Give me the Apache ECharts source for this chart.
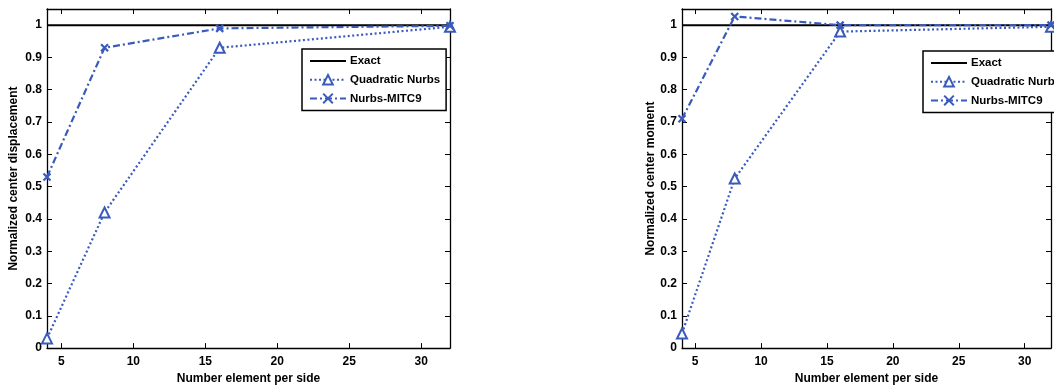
<!DOCTYPE html>
<html>
<head>
<meta charset="utf-8">
<script src="https://cdn.jsdelivr.net/npm/echarts@6/dist/echarts.min.js"></script>
<style>
  html, body { margin: 0; padding: 0; background: #fff; }
  #chart { width: 1054px; height: 390px; }
</style>
</head>
<body>
<div id="chart"></div>
<script>
const elements = [4, 8, 16, 32];
const exactValues = [1, 1, 1, 1];

// left: center displacement
const dispQuadratic = [0.03, 0.42, 0.93, 0.995];
const dispMitc9 = [0.53, 0.93, 0.99, 0.998];

// right: center moment
const momQuadratic = [0.045, 0.525, 0.98, 0.995];
const momMitc9 = [0.71, 1.027, 1.0, 1.0];

const blue = "#3a5abc";
const font = "Liberation Sans";
const crossPath = "path://M0,0L10,10M10,0L0,10";

const pairs = (ys) => elements.map((x, i) => [x, ys[i]]);

const chart = echarts.init(document.getElementById("chart"));

const axisLine = { onZero: false, lineStyle: { color: "#000", width: 1.3 } };
const axisTick = { inside: true, length: 5, lineStyle: { color: "#000", width: 1 } };
const labelStyle = { color: "#000", fontWeight: "bold", fontSize: 12, fontFamily: font };
const nameStyle = { color: "#000", fontWeight: "bold", fontSize: 12, fontFamily: font };

function xAxes(gridIndex) {
  return [
    {
      gridIndex, type: "value", min: 4, max: 32, position: "bottom",
      axisLine, axisTick, splitLine: { show: false },
      axisLabel: Object.assign({ margin: 8, formatter: (v) => (v % 5 === 0 ? String(v) : "") }, labelStyle),
      name: "Number element per side", nameLocation: "middle", nameGap: 24,
      nameTextStyle: nameStyle,
    },
    {
      gridIndex, type: "value", min: 4, max: 32, position: "top",
      axisLine, axisTick, splitLine: { show: false }, axisLabel: { show: false },
    },
  ];
}

function yAxes(gridIndex, name, gap) {
  return [
    {
      gridIndex, type: "value", min: 0, max: 1.05, interval: 0.1, position: "left",
      axisLine, axisTick, splitLine: { show: false },
      axisLabel: Object.assign({ margin: 5, showMaxLabel: false }, labelStyle),
      name, nameLocation: "middle", nameGap: gap,
      nameTextStyle: nameStyle,
    },
    {
      gridIndex, type: "value", min: 0, max: 1.05, interval: 0.1, position: "right",
      axisLine, axisTick, splitLine: { show: false }, axisLabel: { show: false },
    },
  ];
}

function seriesFor(idx, quad, mitc) {
  return [
    {
      name: "Exact", type: "line", xAxisIndex: idx * 2, yAxisIndex: idx * 2,
      data: pairs(exactValues), symbol: "none", clip: false,
      lineStyle: { color: "#000", width: 2 }, itemStyle: { color: "#000" },
    },
    {
      name: "Quadratic Nurbs", type: "line", xAxisIndex: idx * 2, yAxisIndex: idx * 2,
      data: pairs(quad), symbol: "emptyTriangle", symbolSize: 10, clip: false,
      lineStyle: { color: blue, width: 2.2, type: [2, 2.5] },
      itemStyle: { color: blue, borderColor: blue, borderWidth: 1.8 },
    },
    {
      name: "Nurbs-MITC9", type: "line", xAxisIndex: idx * 2, yAxisIndex: idx * 2,
      data: pairs(mitc), symbol: crossPath, symbolSize: 7, clip: false,
      lineStyle: { color: blue, width: 2.2, type: [7, 3, 2, 3] },
      itemStyle: { color: blue, borderColor: blue, borderWidth: 2.2 },
    },
  ];
}

function legendAt(left, top) {
  return {
    orient: "vertical", left, top,
    data: [
      { name: "Exact", itemStyle: { color: "transparent", borderColor: "transparent", borderWidth: 0 } },
      "Quadratic Nurbs",
      "Nurbs-MITC9",
    ],
    backgroundColor: "#fff", borderColor: "#000", borderWidth: 1.5,
    padding: [6, 6, 6, 7], itemWidth: 36, itemHeight: 12, itemGap: 6.7,
    textStyle: { color: "#000", fontWeight: "bold", fontSize: 11.5, fontFamily: font, padding: [0, 0, 0, -1] },
    selectedMode: false,
  };
}

chart.setOption({
  animation: false,
  backgroundColor: "#fff",
  grid: [
    { left: 47, top: 9, width: 403, height: 343 },
    { left: 682, top: 9, width: 379, height: 343 },
  ],
  xAxis: [...xAxes(0), ...xAxes(1)],
  yAxis: [...yAxes(0, "Normalized center displacement", 27), ...yAxes(1, "Normalized center moment", 24)],
  legend: [legendAt(302, 49), legendAt(923, 51)],
  series: [...seriesFor(0, dispQuadratic, dispMitc9), ...seriesFor(1, momQuadratic, momMitc9)],
});
</script>
</body>
</html>
